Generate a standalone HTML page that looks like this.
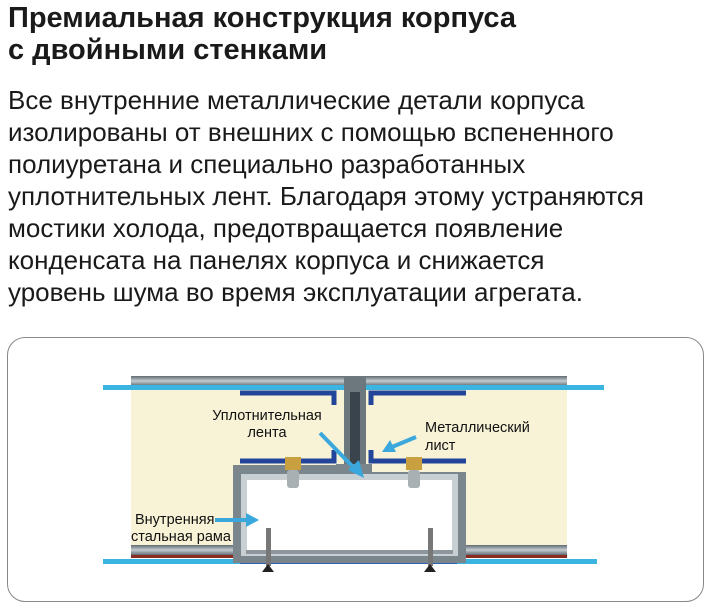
<!DOCTYPE html>
<html><head><meta charset="utf-8"><style>
body{margin:0;width:711px;height:612px;background:#fff;font-family:"Liberation Sans",sans-serif;position:relative;overflow:hidden}
.t{position:absolute;left:8px;top:2px;font-size:29px;font-weight:bold;line-height:32px;color:#1a1a1a}
.b{position:absolute;left:8px;top:84px;font-size:26px;line-height:32px;color:#1a1a1a}
.box{position:absolute;left:7px;top:337px;width:695px;height:263px;border:1.5px solid #888;border-radius:18px}
svg{position:absolute;left:0;top:0}
</style></head><body>
<div class="t">Премиальная конструкция корпуса<br>с двойными стенками</div>
<div class="b">Все внутренние металлические детали корпуса<br>изолированы от внешних с помощью вспененного<br>полиуретана и специально разработанных<br>уплотнительных лент. Благодаря этому устраняются<br>мостики холода, предотвращается появление<br>конденсата на панелях корпуса и снижается<br>уровень шума во время эксплуатации агрегата.</div>
<div class="box"></div>
<svg width="711" height="612">
<defs><linearGradient id="g" x1="0" y1="0" x2="0" y2="1"><stop offset="0" stop-color="#5f6a72"/><stop offset="0.5" stop-color="#c5ccd0"/><stop offset="1" stop-color="#5f6a72"/></linearGradient></defs>
<rect x="131" y="390" width="436" height="157" fill="#f8f2d6"/>
<rect x="131" y="376" width="436" height="10" fill="url(#g)"/>
<rect x="103" y="385" width="501" height="5" fill="#3ab4e0"/>
<rect x="131" y="545" width="109" height="10" fill="url(#g)"/>
<rect x="457" y="545" width="110" height="10" fill="url(#g)"/>
<rect x="131" y="555" width="109" height="3" fill="#8a2a20"/>
<rect x="457" y="555" width="110" height="3" fill="#8a2a20"/>
<rect x="103" y="559" width="494" height="5" fill="#3ab4e0"/>
<rect x="240" y="559" width="217" height="5" fill="#2d62b0"/>
<path d="M240 393H334V405M371 405V393H466" stroke="#22459a" stroke-width="5" fill="none"/>
<path d="M334 450V461H240M371 450V461H466" stroke="#22459a" stroke-width="5" fill="none"/>
<rect x="344" y="376" width="22" height="104" fill="#6d777e"/>
<rect x="350" y="392" width="10" height="80" fill="#3a444c"/>
<path d="M233 465H340V472H466V563H233Z" fill="#7a858c"/>
<rect x="336" y="464" width="36" height="14" fill="#7a858c"/>
<rect x="241" y="474" width="217" height="82" fill="#c9d0d4"/>
<rect x="247" y="480" width="205" height="70" fill="#fff"/>
<rect x="246" y="550" width="207" height="4" fill="#8c969c"/>
<rect x="285" y="457" width="16" height="13" fill="#c8a040"/>
<rect x="406" y="457" width="16" height="13" fill="#c8a040"/>
<rect x="287" y="470" width="12" height="18" rx="3" fill="#a8b0b4"/>
<rect x="408" y="470" width="12" height="18" rx="3" fill="#a8b0b4"/>
<rect x="266" y="528" width="5" height="38" fill="#777"/>
<rect x="428" y="528" width="5" height="38" fill="#777"/>
<path d="M262 572L268 564L274 572Z M424 572L430 564L436 572Z" fill="#222"/>
<g stroke="#3aa8dc" stroke-width="4" fill="#3aa8dc">
<line x1="320" y1="433" x2="356" y2="470"/>
<line x1="416" y1="437" x2="392" y2="447"/>
<line x1="215" y1="520" x2="248" y2="520"/>
</g>
<g fill="#3aa8dc">
<path d="M364 478L348 470L359 460Z"/>
<path d="M382 452L390 440L396 452Z"/>
<path d="M259 520L246 513L246 527Z"/>
</g>
<g font-size="14.5" fill="#111" font-family="Liberation Sans,sans-serif">
<text x="267" y="420" text-anchor="middle">Уплотнительная</text>
<text x="267" y="437" text-anchor="middle">лента</text>
<text x="425" y="432">Металлический</text>
<text x="425" y="450">лист</text>
<text x="135" y="524">Внутренняя</text>
<text x="131" y="541">стальная рама</text>
</g>
</svg>
</body></html>
